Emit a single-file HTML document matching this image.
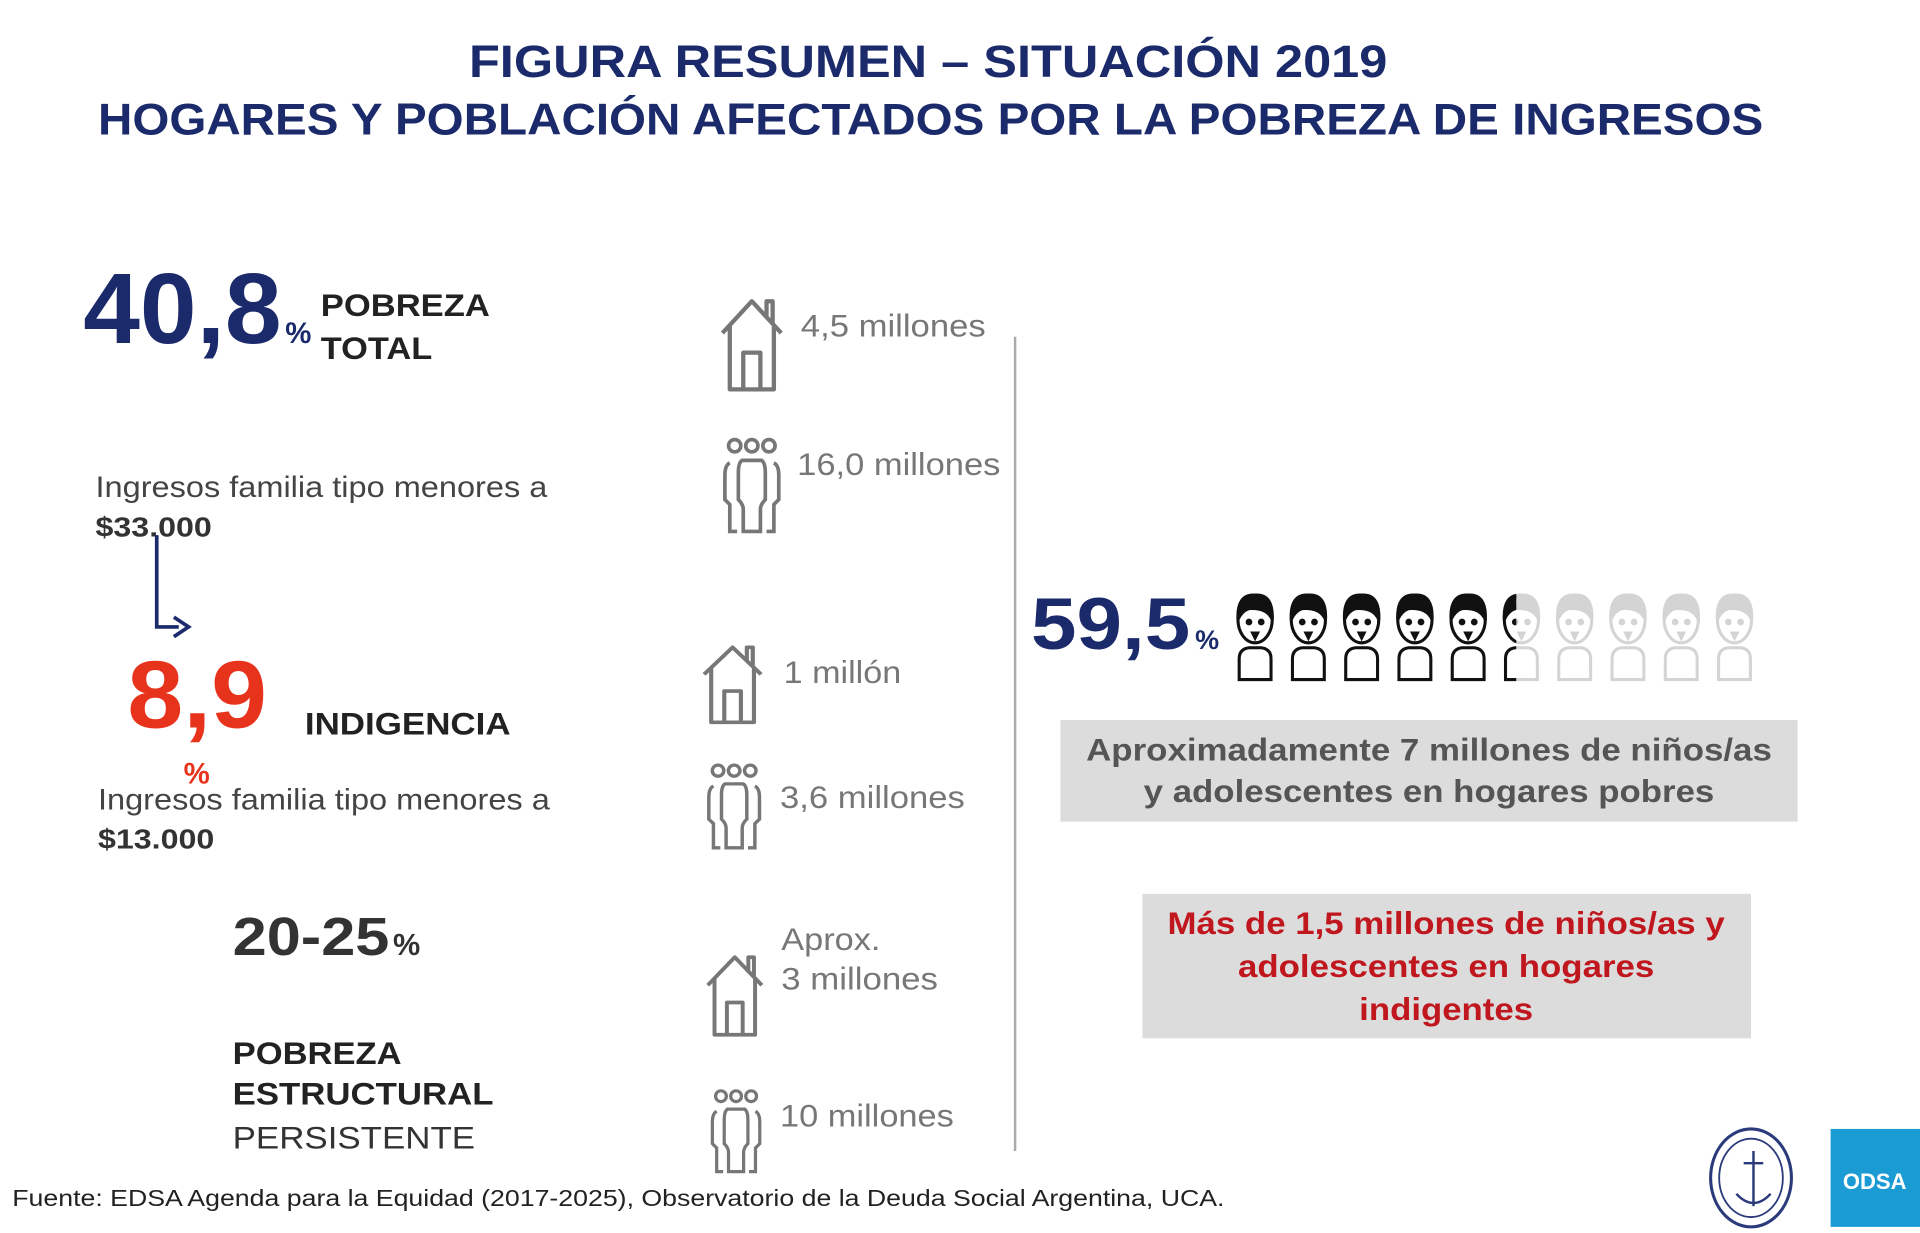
<!DOCTYPE html>
<html><head><meta charset="utf-8"><style>
html,body{margin:0;padding:0;background:#fff;}
svg{display:block;font-family:"Liberation Sans",Arial,sans-serif;}
</style></head><body>
<svg id="s" width="1920" height="1233" viewBox="0 0 1568 1007" preserveAspectRatio="none">
<rect width="1568" height="1007" fill="#fff"/>
<g fill="#1b2a6b" font-weight="bold" text-anchor="middle">
<text x="758" y="63" font-size="37" textLength="750" lengthAdjust="spacingAndGlyphs">FIGURA RESUMEN – SITUACIÓN 2019</text>
<text x="760" y="110" font-size="36" textLength="1360" lengthAdjust="spacingAndGlyphs">HOGARES Y POBLACIÓN AFECTADOS POR LA POBREZA DE INGRESOS</text>
</g>
<text x="68" y="280" font-size="82" font-weight="bold" fill="#1b2a6b" textLength="162" lengthAdjust="spacingAndGlyphs">40,8</text>
<text x="233" y="280" font-size="24" font-weight="bold" fill="#1b2a6b">%</text>
<text x="262" y="258" font-size="26" font-weight="bold" fill="#222" textLength="138" lengthAdjust="spacingAndGlyphs">POBREZA</text>
<text x="262" y="293" font-size="26" font-weight="bold" fill="#222" textLength="91" lengthAdjust="spacingAndGlyphs">TOTAL</text>
<text x="78" y="406" font-size="24" fill="#444" textLength="369" lengthAdjust="spacingAndGlyphs">Ingresos familia tipo menores a</text>
<text x="78" y="438" font-size="23" font-weight="bold" fill="#333" textLength="95" lengthAdjust="spacingAndGlyphs">$33.000</text>
<path d="M128 437 V512 H146" fill="none" stroke="#1b2a6b" stroke-width="3"/>
<path d="M142 504 L154 512 L142 520" fill="none" stroke="#1b2a6b" stroke-width="3"/>
<text x="104" y="594" font-size="78" font-weight="bold" fill="#e8331c" textLength="114" lengthAdjust="spacingAndGlyphs">8,9</text>
<text x="150" y="640" font-size="24" font-weight="bold" fill="#e8331c">%</text>
<text x="249" y="600" font-size="26" font-weight="bold" fill="#222" textLength="168" lengthAdjust="spacingAndGlyphs">INDIGENCIA</text>
<text x="80" y="661" font-size="24" fill="#444" textLength="369" lengthAdjust="spacingAndGlyphs">Ingresos familia tipo menores a</text>
<text x="80" y="693" font-size="23" font-weight="bold" fill="#333" textLength="95" lengthAdjust="spacingAndGlyphs">$13.000</text>
<text x="190" y="780" font-size="44" font-weight="bold" fill="#333" textLength="128" lengthAdjust="spacingAndGlyphs">20-25</text>
<text x="321" y="780" font-size="25" font-weight="bold" fill="#333">%</text>
<text x="190" y="869" font-size="26" font-weight="bold" fill="#222" textLength="138" lengthAdjust="spacingAndGlyphs">POBREZA</text>
<text x="190" y="902" font-size="26" font-weight="bold" fill="#222" textLength="213" lengthAdjust="spacingAndGlyphs">ESTRUCTURAL</text>
<text x="190" y="938" font-size="26" fill="#333" textLength="198" lengthAdjust="spacingAndGlyphs">PERSISTENTE</text>
<defs>
<g id="house" fill="none" stroke="#777" stroke-width="3.5" stroke-linejoin="round">
<path d="M0 28 L24 2 L48 28"/><path d="M36 14 V2 H41 V20"/>
<path d="M6 22 V74 H42 V22"/><path d="M17 74 V44 H31 V74"/>
</g>
<g id="people" fill="none" stroke="#777" stroke-width="3">
<circle cx="10" cy="6" r="5"/><circle cx="24" cy="6" r="5"/><circle cx="38" cy="6" r="5"/>
<path d="M6 20 Q2 22 2 30 V50 Q4 52 6 54 V76 H12"/>
<path d="M42 20 Q46 22 46 30 V50 Q44 52 42 54 V76 H36"/>
<path d="M16 18 H32 Q35 20 35 28 V50 Q31 54 31 58 V76 H17 V58 Q17 54 13 50 V28 Q13 20 16 18 Z"/>
</g>
</defs>
<g font-size="26" fill="#777">
<use href="#house" x="590" y="244"/>
<text x="654" y="275" textLength="151" lengthAdjust="spacingAndGlyphs">4,5 millones</text>
<use href="#people" x="590" y="358"/>
<text x="651" y="388" textLength="166" lengthAdjust="spacingAndGlyphs">16,0 millones</text>
<use href="#house" transform="translate(575,527) scale(0.97,0.85)"/>
<text x="640" y="558" textLength="96" lengthAdjust="spacingAndGlyphs">1 millón</text>
<use href="#people" transform="translate(577,624) scale(0.94,0.9)"/>
<text x="637" y="660" textLength="151" lengthAdjust="spacingAndGlyphs">3,6 millones</text>
<use href="#house" transform="translate(578,780) scale(0.92,0.88)"/>
<text x="638" y="776" textLength="81" lengthAdjust="spacingAndGlyphs">Aprox.</text>
<text x="638" y="808" textLength="128" lengthAdjust="spacingAndGlyphs">3 millones</text>
<use href="#people" transform="translate(580,890) scale(0.88,0.88)"/>
<text x="637" y="920" textLength="142" lengthAdjust="spacingAndGlyphs">10 millones</text>
</g>
<line x1="829" y1="275" x2="829" y2="940" stroke="#aaa" stroke-width="2"/>
<text x="842" y="530" font-size="60" font-weight="bold" fill="#1b2a6b" textLength="130" lengthAdjust="spacingAndGlyphs">59,5</text>
<text x="976" y="530" font-size="22" font-weight="bold" fill="#1b2a6b">%</text>
<g id="kids"></g>
<rect x="866" y="588" width="602" height="83" fill="#dcdcdc"/>
<g font-size="26" font-weight="bold" fill="#555" text-anchor="middle">
<text x="1167" y="621" textLength="560" lengthAdjust="spacingAndGlyphs">Aproximadamente 7 millones de niños/as</text>
<text x="1167" y="655" textLength="466" lengthAdjust="spacingAndGlyphs">y adolescentes en hogares pobres</text>
</g>
<rect x="933" y="730" width="497" height="118" fill="#dcdcdc"/>
<g font-size="26" font-weight="bold" fill="#c0161e" text-anchor="middle">
<text x="1181" y="763" textLength="455" lengthAdjust="spacingAndGlyphs">Más de 1,5 millones de niños/as y</text>
<text x="1181" y="798" textLength="340" lengthAdjust="spacingAndGlyphs">adolescentes en hogares</text>
<text x="1181" y="833" textLength="142" lengthAdjust="spacingAndGlyphs">indigentes</text>
</g>
<text x="10" y="985" font-size="19" fill="#222" textLength="990" lengthAdjust="spacingAndGlyphs">Fuente: EDSA Agenda para la Equidad (2017-2025), Observatorio de la Deuda Social Argentina, UCA.</text>
<g>
<ellipse cx="1430" cy="962" rx="33" ry="40" fill="none" stroke="#2a3a7a" stroke-width="2.5"/>
<ellipse cx="1430" cy="962" rx="26" ry="32" fill="none" stroke="#2a3a7a" stroke-width="1.5"/>
<path d="M1432 940 V985 M1424 950 H1440 M1418 975 Q1432 990 1446 975" fill="none" stroke="#2a3a7a" stroke-width="2"/>
</g>
<rect x="1495" y="922" width="73" height="80" fill="#1a9bd4"/>
<text x="1531" y="971" font-size="18" font-weight="bold" fill="#fff" text-anchor="middle">ODSA</text>
</svg>
<script>
const kidsPct = [59.5];
const totalIcons = [10];
const NS = "http://www.w3.org/2000/svg";
const g = document.getElementById('kids');
const x0 = 1008, step = 43.5;
function xScale(p){ return x0 + p / 100 * 387; }
function kid(x, color, parent){
  const k = document.createElementNS(NS,'g');
  k.setAttribute('fill','none'); k.setAttribute('stroke',color); k.setAttribute('stroke-width','2.5');
  k.innerHTML = '<path d="M'+(x+4)+' 555 V538 Q'+(x+4)+' 530 '+(x+12)+' 529 H'+(x+22)+' Q'+(x+30)+' 530 '+(x+30)+' 538 V555 Z"/>'+
    '<ellipse cx="'+(x+17)+'" cy="506" rx="14" ry="19"/>'+
    '<path d="M'+(x+3)+' 506 Q'+(x+2)+' 485 '+(x+17)+' 486 Q'+(x+32)+' 485 '+(x+31)+' 506 Q'+(x+27)+' 496 '+(x+12)+' 497 Q'+(x+6)+' 499 '+(x+3)+' 506 Z" fill="'+color+'"/>'+
    '<circle cx="'+(x+12)+'" cy="508" r="1.5" fill="'+color+'"/><circle cx="'+(x+22)+'" cy="508" r="1.5" fill="'+color+'"/>'+
    '<path d="M'+(x+15)+' 517 H'+(x+19)+' L'+(x+17)+' 521 Z" fill="'+color+'"/>';
  parent.appendChild(k);
}
const light = document.createElementNS(NS,'g');


const dark = document.createElementNS(NS,'g');


const cp = document.createElementNS(NS,'clipPath'); cp.setAttribute('id','kc');
const cr = document.createElementNS(NS,'rect');
cr.setAttribute('x', x0-5); cr.setAttribute('y', 470); cr.setAttribute('height', 100);
cr.setAttribute('width', xScale(kidsPct[0]) - x0 + 5);
cp.appendChild(cr); g.appendChild(cp);
dark.setAttribute('clip-path','url(#kc)');
for(let i=0;i<totalIcons[0];i++){ kid(x0+i*step,'#d4d4d4',light); kid(x0+i*step,'#111',dark); }
g.appendChild(light); g.appendChild(dark);
</script>
</body></html>
